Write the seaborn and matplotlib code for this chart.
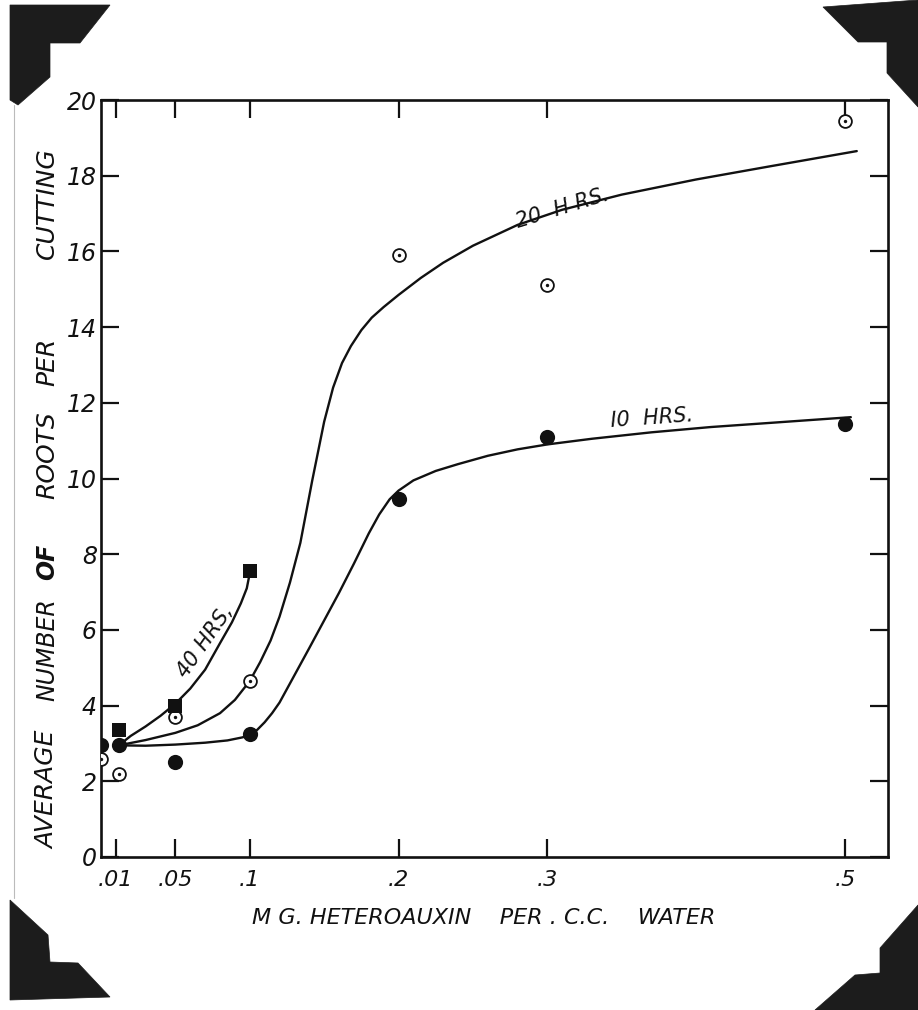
import numpy as np
import pandas as pd
import matplotlib
matplotlib.use("Agg")
import matplotlib.pyplot as plt
from matplotlib.patches import Polygon
import seaborn as sns

# ---- data ----
x_pts = [0.0, 0.012, 0.05, 0.1, 0.2, 0.3, 0.5]
y_10hrs = [2.95, 2.95, 2.5, 3.25, 9.45, 11.1, 11.45]
y_20hrs = [2.6, 2.2, 3.7, 4.65, 15.9, 15.1, 19.45]
x_40 = [0.012, 0.05, 0.1]
y_40hrs = [3.35, 4.0, 7.55]

# hand-drawn fitted curves
c10_x = [0.012, 0.03, 0.05, 0.07, 0.085, 0.095, 0.1, 0.105, 0.11, 0.115, 0.12, 0.13, 0.14, 0.15,
         0.16, 0.17, 0.18, 0.187, 0.194, 0.2, 0.21, 0.225, 0.24, 0.26, 0.28, 0.3, 0.33, 0.37,
         0.41, 0.45, 0.504]
c10_y = [2.95, 2.94, 2.97, 3.02, 3.08, 3.16, 3.22, 3.36, 3.56, 3.8, 4.08, 4.8, 5.52, 6.25,
         6.98, 7.75, 8.55, 9.05, 9.45, 9.68, 9.95, 10.2, 10.38, 10.6, 10.77, 10.9, 11.05, 11.22,
         11.36, 11.47, 11.62]
c20_x = [0.012, 0.03, 0.05, 0.065, 0.08, 0.09, 0.1, 0.107, 0.114, 0.12, 0.127, 0.134, 0.142,
         0.15, 0.156, 0.162, 0.168, 0.175, 0.182, 0.19, 0.2, 0.215, 0.23, 0.25, 0.28, 0.31,
         0.35, 0.4, 0.45, 0.508]
c20_y = [2.95, 3.09, 3.28, 3.48, 3.8, 4.15, 4.65, 5.15, 5.72, 6.35, 7.25, 8.3, 9.95,
         11.5, 12.4, 13.05, 13.5, 13.92, 14.25, 14.53, 14.85, 15.3, 15.7, 16.15, 16.7, 17.1,
         17.5, 17.9, 18.25, 18.65]
c40_x = [0.012, 0.02, 0.03, 0.04, 0.05, 0.06, 0.07, 0.08, 0.088, 0.094, 0.098, 0.1]
c40_y = [2.95, 3.2, 3.45, 3.73, 4.05, 4.45, 4.95, 5.65, 6.2, 6.7, 7.1, 7.5]

x_ticks = [0.01, 0.05, 0.1, 0.2, 0.3, 0.5]
x_ticklabels = [".01", ".05", ".1", ".2", ".3", ".5"]
y_ticks = [0, 2, 4, 6, 8, 10, 12, 14, 16, 18, 20]
y_ticklabels = ["0", "2", "4", "6", "8", "10", "12", "14", "16", "18", "20"]

sns.set_theme(style="white")
plt.rcParams['font.family'] = ['DejaVu Sans']

W, H = 918, 1010
fig = plt.figure(figsize=(W / 100, H / 100), dpi=100)
fig.patch.set_facecolor("white")
ax = fig.add_axes([101 / W, 1 - 857 / H, (888 - 101) / W, (857 - 100) / H])
ax.set_facecolor("white")

ink = "#111111"

# curves
for cx, cy in [(c10_x, c10_y), (c20_x, c20_y), (c40_x, c40_y)]:
    sns.lineplot(x=cx, y=cy, ax=ax, color=ink, lw=1.7, sort=False, estimator=None,
                 solid_joinstyle="round", solid_capstyle="round")

# points
sns.scatterplot(x=x_pts, y=y_10hrs, ax=ax, marker="o", s=120, color=ink, edgecolor=ink, linewidth=0, zorder=5)
sns.scatterplot(x=x_pts, y=y_20hrs, ax=ax, marker="o", s=85, facecolor="white", edgecolor=ink, linewidth=1.3, zorder=5)
sns.scatterplot(x=x_pts, y=y_20hrs, ax=ax, marker="o", s=6, color=ink, edgecolor=ink, linewidth=0, zorder=6)
sns.scatterplot(x=x_40, y=y_40hrs, ax=ax, marker="s", s=95, color=ink, edgecolor=ink, linewidth=0, zorder=5)

ax.set_xlim(0, 0.529)
ax.set_ylim(0, 20)

tfont = dict(family="DejaVu Sans", style="italic", color=ink)
ax.set_xticks(x_ticks)
ax.set_xticklabels(x_ticklabels, fontsize=16, **tfont)
ax.set_yticks(y_ticks)
ax.set_yticklabels(y_ticklabels, fontsize=17, **tfont)
ax.tick_params(axis="both", direction="in", length=13, width=1.6, color=ink,
               top=True, right=True, bottom=True, left=True, pad=9)
ax.tick_params(axis="y", pad=3)
for s in ax.spines.values():
    s.set_color(ink)
    s.set_linewidth(1.9)
    s.set_visible(True)
ax.set_xlabel("")
ax.set_ylabel("")

# curve labels
lab = dict(family="DejaVu Sans", style="italic", color=ink, fontsize=15, ha="center", va="center")
ax.text(0.31, 17.15, "20  H RS.", rotation=17, **lab)
ax.text(0.37, 11.6, "I0  HRS.", rotation=4, **lab)
ax.text(0.07, 5.7, "40 HRS,", rotation=55, **lab)

# axis titles
def px(x, y):
    return x / W, 1 - y / H

fig.text(*px(484, 918), "M G. HETEROAUXIN    PER . C.C.    WATER", fontsize=16,
         family="DejaVu Sans", style="italic", color=ink, ha="center", va="center")
ylab_words = [("AVERAGE", 790, "normal", 18), ("NUMBER", 650, "normal", 17), ("OF", 562, "bold", 17),
              ("ROOTS", 455, "normal", 18), ("PER", 362, "normal", 18), ("CUTTING", 203, "normal", 18)]
for w, yy, wt, fs in ylab_words:
    fig.text(*px(47, yy), w, rotation=90, fontsize=fs, family="DejaVu Sans", style="italic",
             weight=wt, color=ink, ha="center", va="center")

# photo corners and edge
corner = "#1c1c1c"
corners = [
    [(10, 5), (110, 5), (80, 43), (50, 43), (50, 77), (18, 105), (10, 100)],
    [(823, 7), (918, 0), (918, 107), (887, 73), (887, 42), (858, 42)],
    [(10, 900), (48, 935), (50, 962), (78, 963), (110, 997), (10, 1000)],
    [(918, 905), (880, 948), (880, 973), (855, 975), (815, 1010), (918, 1010)],
]
for poly in corners:
    pts = [px(x, y) for x, y in poly]
    fig.patches.append(Polygon(pts, closed=True, transform=fig.transFigure,
                               facecolor=corner, edgecolor=corner, lw=0.5))
fig.lines.append(plt.Line2D([14 / W, 14 / W], [1 - 105 / H, 1 - 898 / H], transform=fig.transFigure,
                            color="#bbbbbb", lw=0.8))

fig.savefig("out.png", dpi=100, facecolor="white")
